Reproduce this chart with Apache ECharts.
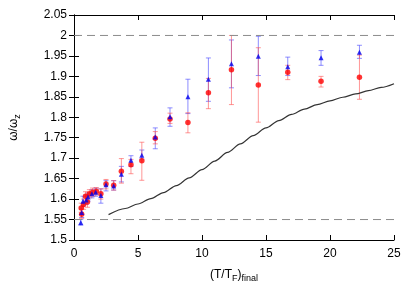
<!DOCTYPE html>
<html><head><meta charset="utf-8">
<script src="https://cdn.jsdelivr.net/npm/echarts@6/dist/echarts.min.js"></script>
<style>html,body{margin:0;padding:0;background:#fff}#c{width:415px;height:291px}</style>
</head><body><div id="c"></div>
<script>
const xTicks = [0, 5, 10, 15, 20, 25];
const yTicks = [1.5, 1.55, 1.6, 1.65, 1.7, 1.75, 1.8, 1.85, 1.9, 1.95, 2, 2.05];
const dashedLevels = [2, 1.55];

const redX  = [0.56, 0.6, 0.75, 0.9, 1.05, 1.2, 1.45, 1.75, 2.1, 2.5, 3.1, 3.7, 4.45, 5.3, 6.35, 7.5, 8.9, 10.5, 12.3, 14.4, 16.7, 19.3, 22.3];
const redY  = [1.578, 1.563, 1.587, 1.607, 1.593, 1.613, 1.617, 1.619, 1.613, 1.637, 1.634, 1.668, 1.684, 1.694, 1.749, 1.796, 1.787, 1.860, 1.916, 1.879, 1.910, 1.888, 1.898];
const redLo = [1.568, 1.553, 1.575, 1.595, 1.580, 1.603, 1.607, 1.610, 1.600, 1.625, 1.622, 1.639, 1.662, 1.646, 1.735, 1.785, 1.762, 1.821, 1.831, 1.788, 1.892, 1.874, 1.844];
const redHi = [1.590, 1.575, 1.600, 1.618, 1.606, 1.623, 1.627, 1.628, 1.625, 1.648, 1.645, 1.699, 1.697, 1.739, 1.765, 1.810, 1.811, 1.895, 2.000, 1.970, 1.927, 1.900, 1.952];

const blueX  = [0.53, 0.6, 0.7, 0.95, 1.1, 1.4, 1.7, 2.1, 2.5, 3.1, 3.7, 4.45, 5.3, 6.35, 7.5, 8.9, 10.5, 12.3, 14.4, 16.7, 19.3, 22.3];
const blueY  = [1.543, 1.567, 1.595, 1.598, 1.605, 1.613, 1.617, 1.609, 1.635, 1.632, 1.661, 1.695, 1.707, 1.752, 1.801, 1.850, 1.893, 1.931, 1.949, 1.9235, 1.9455, 1.959];
const blueLo = [1.536, 1.555, 1.583, 1.587, 1.595, 1.603, 1.607, 1.590, 1.620, 1.622, 1.642, 1.680, 1.698, 1.723, 1.778, 1.809, 1.839, 1.872, 1.902, 1.902, 1.927, 1.944];
const blueHi = [1.550, 1.578, 1.607, 1.610, 1.615, 1.623, 1.627, 1.625, 1.645, 1.645, 1.680, 1.706, 1.720, 1.774, 1.823, 1.893, 1.945, 1.989, 1.998, 1.947, 1.963, 1.976];

const curveX = [2.7, 4, 5, 6, 7, 8, 9, 10, 11, 12, 13, 14, 15, 16, 17, 18, 19, 20, 21, 22, 23, 24, 25];
const curveY = [1.562, 1.577, 1.588, 1.601, 1.616, 1.633, 1.652, 1.672, 1.693, 1.714, 1.735, 1.755, 1.774, 1.792, 1.807, 1.820, 1.831, 1.840, 1.849, 1.857, 1.865, 1.873, 1.882];

const zip = (a, b) => a.map((v, i) => [v, b[i]]);
const errData = (x, lo, hi) => x.map((v, i) => [v, 0, lo[i], hi[i]]);

function errRender(color) {
  return function (params, api) {
    const x = api.value(0), lo = api.value(2), hi = api.value(3);
    const p1 = api.coord([x, lo]), p2 = api.coord([x, hi]);
    const w = 2.5;
    const st = { stroke: color, lineWidth: 1 };
    return { type: 'group', children: [
      { type: 'line', shape: { x1: p1[0], y1: p1[1], x2: p2[0], y2: p2[1] }, style: st },
      { type: 'line', shape: { x1: p1[0] - w, y1: p1[1], x2: p1[0] + w, y2: p1[1] }, style: st },
      { type: 'line', shape: { x1: p2[0] - w, y1: p2[1], x2: p2[0] + w, y2: p2[1] }, style: st }
    ]};
  };
}

const font = 'Liberation Sans';
const axisCommon = {
  axisLine: { show: true, lineStyle: { color: '#000', width: 1 } },
  axisTick: { show: true, inside: true, length: 5, lineStyle: { color: '#000' } },
  splitLine: { show: false }
};

const chart = echarts.init(document.getElementById('c'), null, { renderer: 'canvas' });
chart.setOption({
  animation: false,
  backgroundColor: '#fff',
  grid: { left: 72.4, right: 21, top: 15, bottom: 51, containLabel: false },
  xAxis: [
    Object.assign({ type: 'value', min: xTicks[0], max: xTicks[xTicks.length - 1], interval: 5,
      axisLabel: { fontFamily: font, fontSize: 12, color: '#000', margin: 8 },
      name: '{a|(T/T}{s|F}{a|)}{s|final}', nameLocation: 'middle', nameGap: 27,
      nameTextStyle: { rich: {
        a: { fontFamily: font, fontSize: 12, color: '#000' },
        s: { fontFamily: font, fontSize: 9, color: '#000', padding: [7, 0, 0, 0] } } } }, axisCommon),
    Object.assign({ type: 'value', position: 'top', min: xTicks[0], max: xTicks[xTicks.length - 1], interval: 5,
      axisLabel: { show: false } }, axisCommon)
  ],
  yAxis: [
    Object.assign({ type: 'value', min: yTicks[0], max: yTicks[yTicks.length - 1], interval: 0.05,
      axisLabel: { fontFamily: font, fontSize: 12, color: '#000', margin: 7, formatter: v => String(+v.toFixed(2)) },
      name: '{a|ω/ω}{s|z}', nameLocation: 'middle', nameGap: 52, nameRotate: 90,
      nameTextStyle: { rich: {
        a: { fontFamily: font, fontSize: 12, color: '#000' },
        s: { fontFamily: font, fontSize: 9, color: '#000', padding: [7, 0, 0, 0] } } } }, axisCommon),
    Object.assign({ type: 'value', position: 'right', min: yTicks[0], max: yTicks[yTicks.length - 1], interval: 0.05,
      axisLabel: { show: false } }, axisCommon)
  ],
  series: [
    ...dashedLevels.map(l => ({ type: 'line', data: [[xTicks[0], l], [xTicks[xTicks.length - 1], l]], symbol: 'none', silent: true,
      lineStyle: { color: '#8c8c8c', width: 1, type: [8, 5] } })),
    { type: 'line', data: zip(curveX, curveY), smooth: 0.3, smoothMonotone: 'x', symbol: 'none',
      lineStyle: { color: '#333', width: 1.2 } },
    { type: 'custom', data: errData(blueX, blueLo, blueHi), renderItem: errRender('rgba(80,80,255,0.65)'), z: 3 },
    { type: 'custom', data: errData(redX, redLo, redHi), renderItem: errRender('rgba(255,80,80,0.6)'), z: 3 },
    { type: 'scatter', data: zip(redX, redY), symbol: 'circle', symbolSize: 5.5, itemStyle: { color: '#ff0000' }, z: 4 },
    { type: 'scatter', data: zip(blueX, blueY), symbol: 'triangle', symbolSize: 5, itemStyle: { color: '#0000ee' }, z: 5 }
  ]
});
</script></body></html>
